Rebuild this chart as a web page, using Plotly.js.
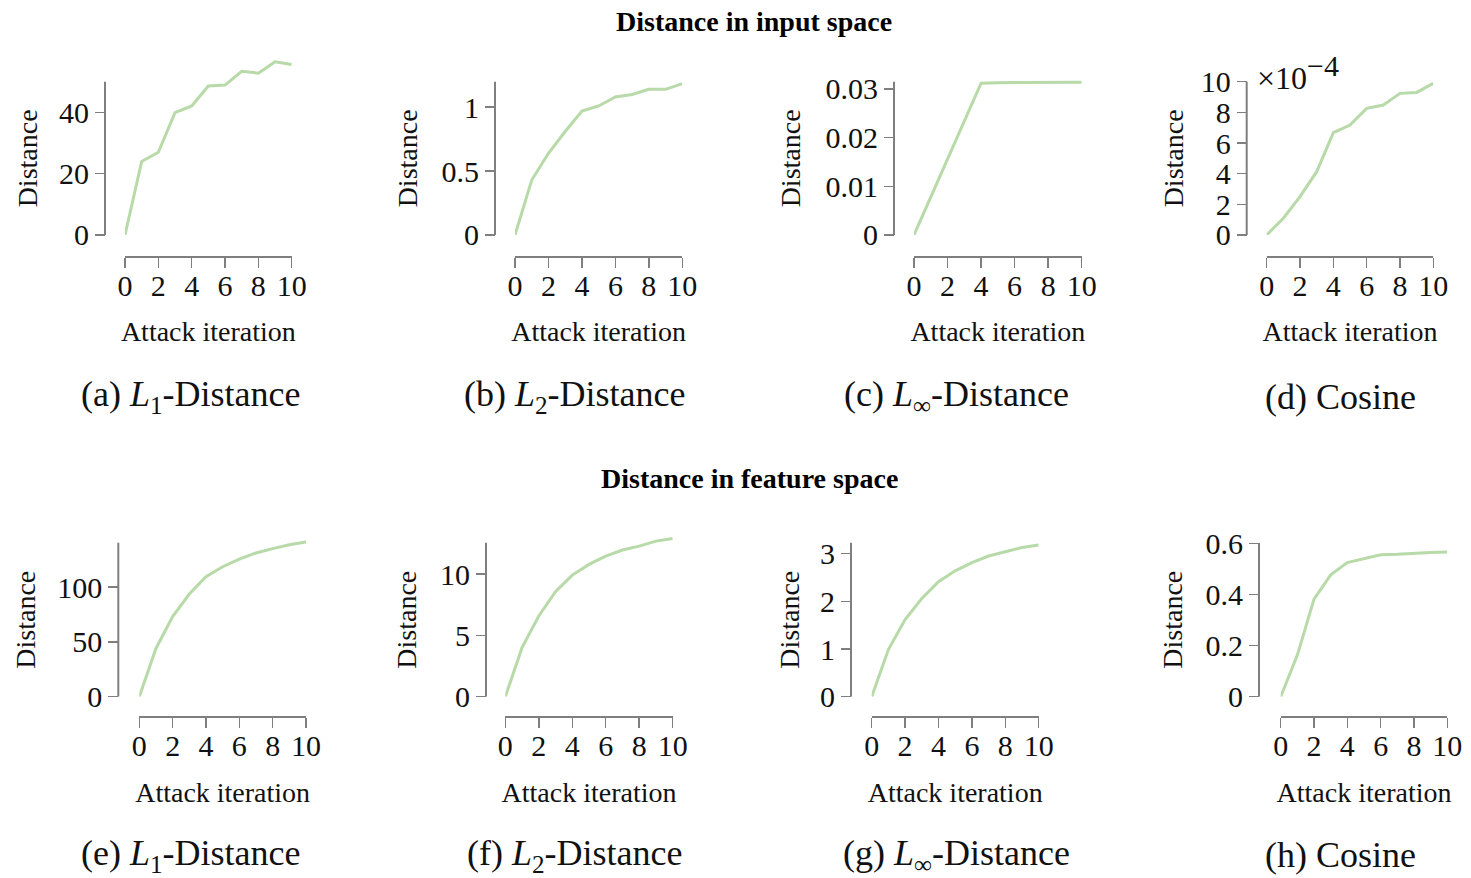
<!DOCTYPE html>
<html>
<head>
<meta charset="utf-8">
<script src="https://cdn.plot.ly/plotly-3.0.1.min.js"></script>
<style>
  html, body { margin: 0; padding: 0; background: #ffffff; }
  #chart { width: 1471px; height: 878px; }
</style>
</head>
<body>
<div id="chart"></div>
<script>
// Attack iterations on the x axis
const iterations = [0, 1, 2, 3, 4, 5, 6, 7, 8, 9, 10];

// Distance in input space
const inputL1   = [0, 24.0, 27.0, 39.9, 42.1, 48.6, 48.9, 53.4, 52.8, 56.5, 55.6];
const inputL2   = [0, 0.43, 0.64, 0.81, 0.97, 1.01, 1.08, 1.10, 1.14, 1.14, 1.185];
const inputLinf = [0, 0.0078, 0.0157, 0.0235, 0.0312, 0.0313, 0.0313, 0.0314, 0.0314, 0.0314, 0.0314];
const inputCos  = [0, 1.09e-4, 2.50e-4, 4.13e-4, 6.67e-4, 7.17e-4, 8.26e-4, 8.48e-4, 9.24e-4, 9.30e-4, 9.89e-4];

// Distance in feature space
const featL1   = [0, 44.0, 73.0, 93.6, 109.4, 118.5, 125.5, 131.0, 135.0, 138.6, 141.0];
const featL2   = [0, 4.00, 6.58, 8.56, 9.92, 10.79, 11.47, 11.96, 12.28, 12.69, 12.90];
const featLinf = [0, 0.99, 1.62, 2.06, 2.41, 2.64, 2.81, 2.95, 3.04, 3.13, 3.18];
const featCos  = [0, 0.163, 0.382, 0.477, 0.525, 0.540, 0.556, 0.558, 0.563, 0.565, 0.567];

// Tick values
const xTickVals = [0, 2, 4, 6, 8, 10];
const yTicksInL1   = [0, 20, 40];
const yTicksInL2   = [0, 0.5, 1];
const yTicksInLinf = [0, 0.01, 0.02, 0.03];
const yTicksInCos  = [0, 2e-4, 4e-4, 6e-4, 8e-4, 10e-4];
const yTextInCos   = ['0', '2', '4', '6', '8', '10'];
const yTicksFtL1   = [0, 50, 100];
const yTicksFtL2   = [0, 5, 10];
const yTicksFtLinf = [0, 1, 2, 3];
const yTicksFtCos  = [0, 0.2, 0.4, 0.6];

// Text
const sectionTitles = ['Distance in input space', 'Distance in feature space'];
const captions = [
  '(a) <i>L</i><sub>1</sub>-Distance', '(b) <i>L</i><sub>2</sub>-Distance',
  '(c) <i>L</i><sub>∞</sub>-Distance', '(d) Cosine',
  '(e) <i>L</i><sub>1</sub>-Distance', '(f) <i>L</i><sub>2</sub>-Distance',
  '(g) <i>L</i><sub>∞</sub>-Distance', '(h) Cosine'
];
const xTitle = 'Attack iteration';
const yTitle = 'Distance';
const cosineScale = '×10<sup><span style="font-size:30px">−4</span></sup>';

// ---- layout geometry (pixels) ----
const W = 1471, H = 878;
const rows = [
  { zeroY: 235.0, topY: 81.7, xAxisY: 256.7, captionY: 397, titleY: 22 },
  { zeroY: 696.7, topY: 542.7, xAxisY: 717.3, captionY: 855, titleY: 479 }
];
const panels = [
  { y: inputL1,   ticks: yTicksInL1,   row: 0, spineX: 105.0,  x0: 125.0,  x1: 291.7,  top: 50,     capX: 191.5, ytX: 27 },
  { y: inputL2,   ticks: yTicksInL2,   row: 0, spineX: 495.0,  x0: 515.0,  x1: 682.3,  top: 1.2,    capX: 574.5, ytX: 407 },
  { y: inputLinf, ticks: yTicksInLinf, row: 0, spineX: 894.0,  x0: 914.0,  x1: 1081.7, top: 0.0315, capX: 957,   ytX: 790 },
  { y: inputCos,  ticks: yTicksInCos,  row: 0, spineX: 1246.7, x0: 1266.7, x1: 1433.3, top: 1e-3,   capX: 1340,  ytX: 1173, text: yTextInCos },
  { y: featL1,    ticks: yTicksFtL1,   row: 1, spineX: 118.3,  x0: 139.3,  x1: 306.0,  top: 140.4,  capX: 191.5, ytX: 26 },
  { y: featL2,    ticks: yTicksFtL2,   row: 1, spineX: 486.0,  x0: 505.3,  x1: 672.7,  top: 12.56,  capX: 574.5, ytX: 407 },
  { y: featLinf,  ticks: yTicksFtLinf, row: 1, spineX: 851.0,  x0: 871.7,  x1: 1038.7, top: 3.23,   capX: 957,   ytX: 790 },
  { y: featCos,   ticks: yTicksFtCos,  row: 1, spineX: 1259.0, x0: 1280.7, x1: 1447.3, top: 0.603,  capX: 1340,  ytX: 1173 }
];

const lineColor = '#b7daa8';
const spineColor = '#7f7f7f';
const serif = 'Liberation Serif, Times New Roman, serif';
const tickFont = { family: serif, size: 30, color: '#111111' };
const labelFont = { family: serif, size: 28, color: '#111111' };

const px = v => v / W;
const py = v => 1 - v / H;

const traces = [];
const layout = {
  width: W, height: H,
  margin: { l: 0, r: 0, t: 0, b: 0 },
  paper_bgcolor: '#ffffff', plot_bgcolor: 'rgba(0,0,0,0)',
  showlegend: false,
  shapes: [], annotations: []
};

panels.forEach((p, i) => {
  const n = i + 1;
  const xName = n === 1 ? 'xaxis' : 'xaxis' + n;
  const yName = n === 1 ? 'yaxis' : 'yaxis' + n;
  const yRef = n === 1 ? 'y' : 'y' + n;
  const r = rows[p.row];

  // y range may exceed the spine so the curve is never clipped
  const rangeTop = Math.max(p.top, Math.max(...p.y) * 1.05);
  const pxPerUnit = (r.zeroY - r.topY) / p.top;
  const domTopY = r.zeroY - rangeTop * pxPerUnit;

  traces.push({
    type: 'scatter', mode: 'lines',
    x: iterations, y: p.y,
    xaxis: n === 1 ? 'x' : 'x' + n, yaxis: yRef,
    line: { color: lineColor, width: 3 },
    hoverinfo: 'x+y'
  });

  layout[xName] = {
    domain: [px(p.x0), px(p.x1)],
    range: [0, 10],
    anchor: 'free', position: py(r.xAxisY),
    showline: true, linecolor: spineColor, linewidth: 2,
    ticks: 'outside', ticklen: 10, tickwidth: 1.5, tickcolor: spineColor,
    tickvals: xTickVals,
    ticklabelstandoff: -8,
    showgrid: false, zeroline: false,
    tickfont: tickFont,
    title: { text: xTitle, font: labelFont, standoff: 20 },
    fixedrange: true
  };

  const yAx = {
    domain: [py(r.zeroY), py(domTopY)],
    range: [0, rangeTop],
    anchor: 'free', position: px(p.spineX),
    showline: false,
    ticks: 'outside', ticklen: 10, tickwidth: 1.5, tickcolor: spineColor,
    tickvals: p.ticks,
    showgrid: false, zeroline: false,
    tickfont: tickFont,
    fixedrange: true
  };
  if (p.text) yAx.ticktext = p.text;
  layout[yName] = yAx;

  // left spine, from zero to the top of the axes box
  layout.shapes.push({
    type: 'line', xref: 'paper', yref: yRef,
    x0: px(p.spineX), x1: px(p.spineX), y0: 0, y1: p.top,
    line: { color: spineColor, width: 2 }
  });

  // y-axis title centred on the spine
  layout.annotations.push({
    xref: 'paper', yref: 'paper',
    x: px(p.ytX), y: py((r.zeroY + r.topY) / 2),
    text: yTitle, textangle: -90, showarrow: false,
    font: labelFont, xanchor: 'center', yanchor: 'middle'
  });

  // sub-figure caption
  layout.annotations.push({
    xref: 'paper', yref: 'paper',
    x: px(p.capX), y: py(r.captionY),
    text: captions[i], showarrow: false,
    font: { family: serif, size: 36, color: '#111111' },
    xanchor: 'center', yanchor: 'middle'
  });
});

// scale factor of the cosine panel
layout.annotations.push({
  xref: 'paper', yref: 'paper',
  x: px(1255), y: py(72),
  text: cosineScale, showarrow: false,
  font: { family: serif, size: 32, color: '#111111' },
  xanchor: 'left', yanchor: 'middle'
});

// section headings
rows.forEach((r, k) => {
  layout.annotations.push({
    xref: 'paper', yref: 'paper',
    x: px(k === 0 ? 753.5 : 749), y: py(r.titleY),
    text: '<b>' + sectionTitles[k] + '</b>', showarrow: false,
    font: { family: serif, size: 28, color: '#000000' },
    xanchor: 'center', yanchor: 'middle'
  });
});

Plotly.newPlot('chart', traces, layout, { staticPlot: true, displayModeBar: false });
</script>
</body>
</html>
